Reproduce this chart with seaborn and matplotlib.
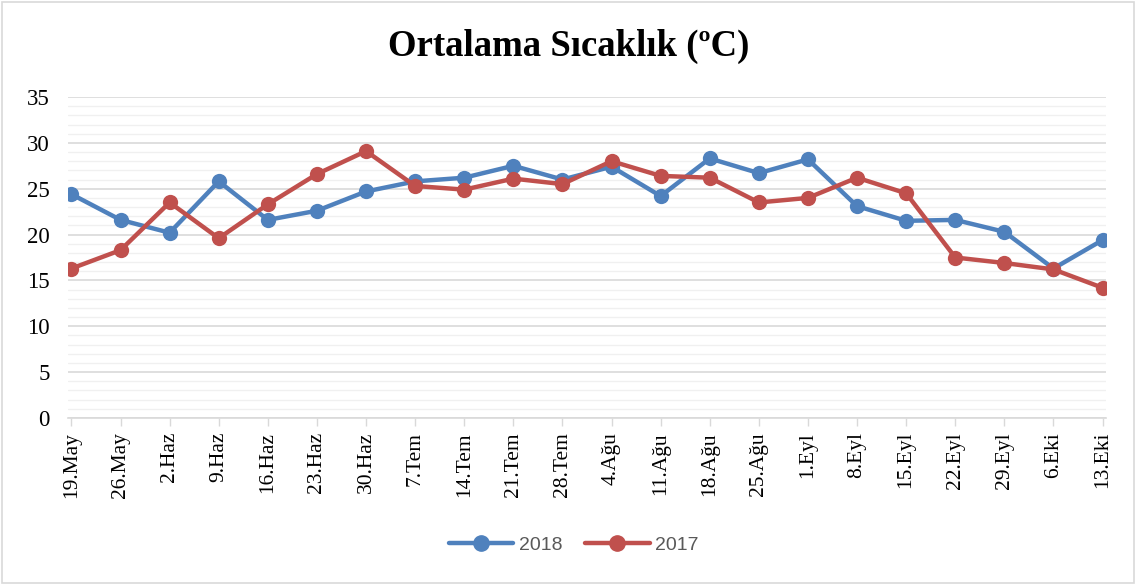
import numpy as np
import pandas as pd
import seaborn as sb
import matplotlib.pyplot as plt
from matplotlib.patches import Rectangle
from matplotlib.ticker import MultipleLocator

tarihler = ['19.May', '26.May', '2.Haz', '9.Haz', '16.Haz', '23.Haz', '30.Haz',
            '7.Tem', '14.Tem', '21.Tem', '28.Tem', '4.Ağu', '11.Ağu', '18.Ağu',
            '25.Ağu', '1.Eyl', '8.Eyl', '15.Eyl', '22.Eyl', '29.Eyl', '6.Eki', '13.Eki']
sicaklik_2018 = [24.4, 21.6, 20.2, 25.8, 21.6, 22.6, 24.7, 25.8, 26.2, 27.5, 26.0,
                 27.4, 24.2, 28.3, 26.7, 28.2, 23.1, 21.5, 21.6, 20.3, 16.3, 19.4]
sicaklik_2017 = [16.3, 18.3, 23.5, 19.6, 23.3, 26.6, 29.1, 25.3, 24.9, 26.1, 25.5,
                 28.0, 26.4, 26.2, 23.5, 24.0, 26.2, 24.5, 17.5, 16.9, 16.2, 14.2]
yillar = ['2018', '2017']
renkler = ['#4f81bd', '#c0504d']

sb.set_style('white')
plt.rcParams['font.family'] = ['Liberation Serif', 'DejaVu Serif']
plt.rcParams['text.color'] = 'black'
plt.rcParams['xtick.color'] = 'black'
plt.rcParams['ytick.color'] = 'black'

df = pd.DataFrame({
    'poz': list(range(len(tarihler))) * 2,
    'sicaklik': sicaklik_2018 + sicaklik_2017,
    'yil': [yillar[0]] * len(tarihler) + [yillar[1]] * len(tarihler),
})

fig = plt.figure(figsize=(11.36, 5.85), dpi=100)
ax = fig.add_axes([68 / 1136, 1 - 418 / 585, (1106 - 68) / 1136, (418 - 97) / 585])

sb.lineplot(data=df, x='poz', y='sicaklik', hue='yil', hue_order=yillar,
            palette=renkler, marker='o', markersize=11, markeredgewidth=0,
            linewidth=3.2, ax=ax, legend=False, zorder=3)

ax.set_xlim(-0.07, len(tarihler) - 1 + 0.07)
ax.set_ylim(0, 35)
ax.yaxis.set_major_locator(MultipleLocator(5))
ax.yaxis.set_minor_locator(MultipleLocator(1))
ax.grid(which='major', axis='y', color='#d9d9d9', linewidth=1.2)
ax.grid(which='minor', axis='y', color='#f0f0f0', linewidth=1.0)
ax.set_axisbelow(True)

ax.set_xticks(range(len(tarihler)))
ax.set_xticklabels(tarihler, rotation=90, fontsize=15.5)
ax.tick_params(axis='x', direction='out', length=6, width=1, color='#d9d9d9',
               pad=4, labelcolor='black', bottom=True)
ax.tick_params(axis='y', length=0, labelsize=16.5, pad=13, labelcolor='black')
for etiket in ax.get_yticklabels():
    etiket.set_horizontalalignment('right')

for s in ['left', 'right', 'top']:
    ax.spines[s].set_visible(False)
ax.spines['bottom'].set_color('#d9d9d9')
ax.spines['bottom'].set_linewidth(1.2)
ax.set_xlabel('')
ax.set_ylabel('')

fig.text(0.501, 1 - 46 / 585, 'Ortalama Sıcaklık (ºC)', ha='center', va='center',
         fontsize=26.5, fontweight='bold', color='black')

# lejant
tutamaklar = [plt.Line2D([], [], color=r, linewidth=3.2, marker='o', markersize=11)
              for r in renkler]
leg = fig.legend(tutamaklar, yillar, loc='center', bbox_to_anchor=(0.505, 1 - 545 / 585),
                 ncol=2, frameon=False, handlelength=3.3, columnspacing=1.2,
                 handletextpad=0.3,
                 prop={'family': ['Liberation Sans Narrow', 'Liberation Sans', 'DejaVu Sans'],
                       'size': 14})
for t in leg.get_texts():
    t.set_color('#595959')

fig.add_artist(Rectangle((2 / 1136, 2 / 585), 1 - 4 / 1136, 1 - 4 / 585,
                         transform=fig.transFigure, fill=False,
                         edgecolor='#d9d9d9', linewidth=1.2))

plt.savefig('out.png', dpi=100)
